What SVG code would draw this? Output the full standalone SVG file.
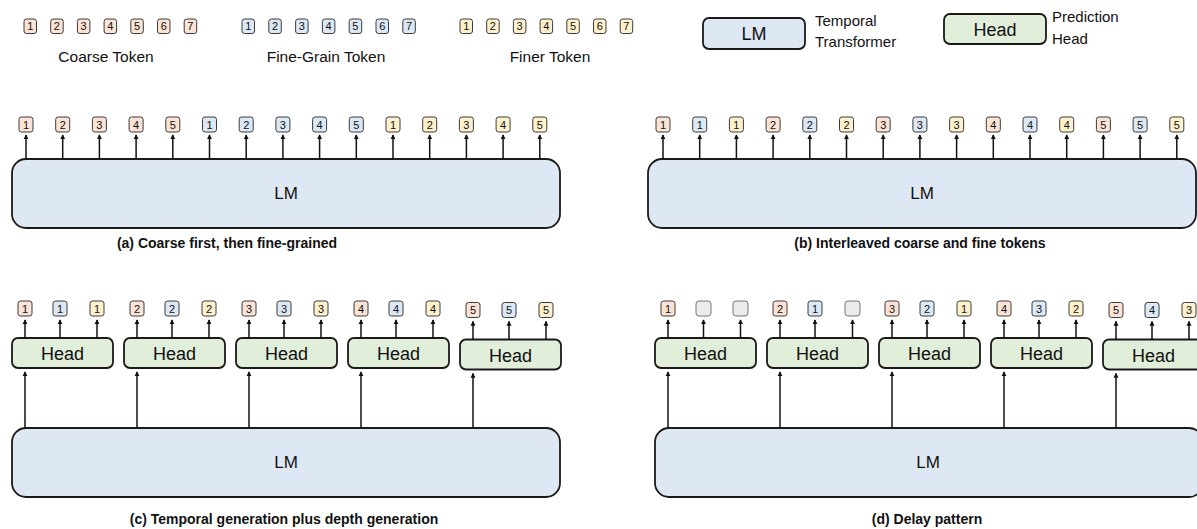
<svg xmlns="http://www.w3.org/2000/svg" width="1197" height="529" viewBox="0 0 1197 529">
<defs>
<style>
text{font-family:"Liberation Sans",Arial,sans-serif;fill:#111}
.tk{stroke:#3a3a3a;stroke-width:1}
.c{fill:#fbe3d5}.f{fill:#dce8f5}.y{fill:#fff1cc}.g{fill:#ececec;stroke:#777}
.tt{font-size:11px;text-anchor:middle}
.lm{fill:#dee8f4;stroke:#1a1a1a;stroke-width:1.8}
.hd{fill:#e1eed9;stroke:#1a1a1a;stroke-width:1.8}
.big{font-size:17px;text-anchor:middle}
.hdt{font-size:18px;text-anchor:middle}
.lab{font-size:15.5px;text-anchor:middle}
.leg{font-size:15px}
.cap{font-size:14px;font-weight:bold;text-anchor:middle}
.ar{stroke:#111;stroke-width:1.5;fill:none;marker-end:url(#ah)}
</style>
<marker id="ah" viewBox="0 0 6 6" refX="5" refY="3" markerWidth="5" markerHeight="6" markerUnits="userSpaceOnUse" orient="auto"><path d="M0,0 L6,3 L0,6 z" fill="#111"/></marker>
</defs>

<g id="legend">
<g id="legend-coarse">
<rect class="tk c" x="24" y="19" width="12.5" height="14.5" rx="2.5"/><text class="tt" x="30.2" y="30.2">1</text>
<rect class="tk c" x="50.7" y="19" width="12.5" height="14.5" rx="2.5"/><text class="tt" x="56.9" y="30.2">2</text>
<rect class="tk c" x="77.4" y="19" width="12.5" height="14.5" rx="2.5"/><text class="tt" x="83.6" y="30.2">3</text>
<rect class="tk c" x="104.1" y="19" width="12.5" height="14.5" rx="2.5"/><text class="tt" x="110.3" y="30.2">4</text>
<rect class="tk c" x="130.8" y="19" width="12.5" height="14.5" rx="2.5"/><text class="tt" x="137" y="30.2">5</text>
<rect class="tk c" x="157.5" y="19" width="12.5" height="14.5" rx="2.5"/><text class="tt" x="163.7" y="30.2">6</text>
<rect class="tk c" x="184.2" y="19" width="12.5" height="14.5" rx="2.5"/><text class="tt" x="190.4" y="30.2">7</text>
<text class="lab" x="106" y="62">Coarse Token</text>
</g>
<g id="legend-fine">
<rect class="tk f" x="242" y="19" width="12.5" height="14.5" rx="2.5"/><text class="tt" x="248.2" y="30.2">1</text>
<rect class="tk f" x="268.8" y="19" width="12.5" height="14.5" rx="2.5"/><text class="tt" x="275" y="30.2">2</text>
<rect class="tk f" x="295.6" y="19" width="12.5" height="14.5" rx="2.5"/><text class="tt" x="301.8" y="30.2">3</text>
<rect class="tk f" x="322.4" y="19" width="12.5" height="14.5" rx="2.5"/><text class="tt" x="328.6" y="30.2">4</text>
<rect class="tk f" x="349.2" y="19" width="12.5" height="14.5" rx="2.5"/><text class="tt" x="355.4" y="30.2">5</text>
<rect class="tk f" x="376" y="19" width="12.5" height="14.5" rx="2.5"/><text class="tt" x="382.2" y="30.2">6</text>
<rect class="tk f" x="402.8" y="19" width="12.5" height="14.5" rx="2.5"/><text class="tt" x="409" y="30.2">7</text>
<text class="lab" x="326" y="62">Fine-Grain Token</text>
</g>
<g id="legend-finer">
<rect class="tk y" x="460" y="19" width="12.5" height="14.5" rx="2.5"/><text class="tt" x="466.2" y="30.2">1</text>
<rect class="tk y" x="486.7" y="19" width="12.5" height="14.5" rx="2.5"/><text class="tt" x="492.9" y="30.2">2</text>
<rect class="tk y" x="513.4" y="19" width="12.5" height="14.5" rx="2.5"/><text class="tt" x="519.6" y="30.2">3</text>
<rect class="tk y" x="540.1" y="19" width="12.5" height="14.5" rx="2.5"/><text class="tt" x="546.3" y="30.2">4</text>
<rect class="tk y" x="566.8" y="19" width="12.5" height="14.5" rx="2.5"/><text class="tt" x="573" y="30.2">5</text>
<rect class="tk y" x="593.5" y="19" width="12.5" height="14.5" rx="2.5"/><text class="tt" x="599.7" y="30.2">6</text>
<rect class="tk y" x="620.2" y="19" width="12.5" height="14.5" rx="2.5"/><text class="tt" x="626.4" y="30.2">7</text>
<text class="lab" x="550" y="62">Finer Token</text>
</g>
<g id="legend-lm">
<rect class="lm" x="703" y="18" width="102" height="31" rx="6"/>
<text class="big" x="754" y="40" style="font-size:18px">LM</text>
<text class="leg" x="815" y="26">Temporal</text>
<text class="leg" x="815" y="47">Transformer</text>
</g>
<g id="legend-head">
<rect class="hd" x="944" y="14" width="102" height="30" rx="6"/>
<text class="hdt" x="995" y="36">Head</text>
<text class="leg" x="1052" y="22">Prediction</text>
<text class="leg" x="1052" y="44">Head</text>
</g>
</g>

<g id="panel-a">
<g id="lm-a"><rect class="lm" x="12" y="159" width="548" height="69" rx="14"/><text class="big" x="286" y="199">LM</text></g>
<g id="tokens-a">
<rect class="tk c" x="19" y="117" width="14" height="15" rx="2.5"/><text class="tt" x="26" y="128.5">1</text>
<rect class="tk c" x="55.7" y="117" width="14" height="15" rx="2.5"/><text class="tt" x="62.7" y="128.5">2</text>
<rect class="tk c" x="92.4" y="117" width="14" height="15" rx="2.5"/><text class="tt" x="99.4" y="128.5">3</text>
<rect class="tk c" x="129.1" y="117" width="14" height="15" rx="2.5"/><text class="tt" x="136.1" y="128.5">4</text>
<rect class="tk c" x="165.8" y="117" width="14" height="15" rx="2.5"/><text class="tt" x="172.8" y="128.5">5</text>
<rect class="tk f" x="202.5" y="117" width="14" height="15" rx="2.5"/><text class="tt" x="209.5" y="128.5">1</text>
<rect class="tk f" x="239.2" y="117" width="14" height="15" rx="2.5"/><text class="tt" x="246.2" y="128.5">2</text>
<rect class="tk f" x="275.9" y="117" width="14" height="15" rx="2.5"/><text class="tt" x="282.9" y="128.5">3</text>
<rect class="tk f" x="312.6" y="117" width="14" height="15" rx="2.5"/><text class="tt" x="319.6" y="128.5">4</text>
<rect class="tk f" x="349.3" y="117" width="14" height="15" rx="2.5"/><text class="tt" x="356.3" y="128.5">5</text>
<rect class="tk y" x="386" y="117" width="14" height="15" rx="2.5"/><text class="tt" x="393" y="128.5">1</text>
<rect class="tk y" x="422.7" y="117" width="14" height="15" rx="2.5"/><text class="tt" x="429.7" y="128.5">2</text>
<rect class="tk y" x="459.4" y="117" width="14" height="15" rx="2.5"/><text class="tt" x="466.4" y="128.5">3</text>
<rect class="tk y" x="496.1" y="117" width="14" height="15" rx="2.5"/><text class="tt" x="503.1" y="128.5">4</text>
<rect class="tk y" x="532.8" y="117" width="14" height="15" rx="2.5"/><text class="tt" x="539.8" y="128.5">5</text>
</g>
<text class="cap" x="227" y="248">(a) Coarse first, then fine-grained</text>
</g>

<g id="panel-b">
<g id="lm-b"><rect class="lm" x="648" y="159" width="548" height="69" rx="14"/><text class="big" x="922" y="199">LM</text></g>
<g id="tokens-b">
<rect class="tk c" x="656" y="117" width="14" height="15" rx="2.5"/><text class="tt" x="663" y="128.5">1</text>
<rect class="tk f" x="692.7" y="117" width="14" height="15" rx="2.5"/><text class="tt" x="699.7" y="128.5">1</text>
<rect class="tk y" x="729.4" y="117" width="14" height="15" rx="2.5"/><text class="tt" x="736.4" y="128.5">1</text>
<rect class="tk c" x="766.1" y="117" width="14" height="15" rx="2.5"/><text class="tt" x="773.1" y="128.5">2</text>
<rect class="tk f" x="802.8" y="117" width="14" height="15" rx="2.5"/><text class="tt" x="809.8" y="128.5">2</text>
<rect class="tk y" x="839.5" y="117" width="14" height="15" rx="2.5"/><text class="tt" x="846.5" y="128.5">2</text>
<rect class="tk c" x="876.2" y="117" width="14" height="15" rx="2.5"/><text class="tt" x="883.2" y="128.5">3</text>
<rect class="tk f" x="912.9" y="117" width="14" height="15" rx="2.5"/><text class="tt" x="919.9" y="128.5">3</text>
<rect class="tk y" x="949.6" y="117" width="14" height="15" rx="2.5"/><text class="tt" x="956.6" y="128.5">3</text>
<rect class="tk c" x="986.3" y="117" width="14" height="15" rx="2.5"/><text class="tt" x="993.3" y="128.5">4</text>
<rect class="tk f" x="1023" y="117" width="14" height="15" rx="2.5"/><text class="tt" x="1030" y="128.5">4</text>
<rect class="tk y" x="1059.7" y="117" width="14" height="15" rx="2.5"/><text class="tt" x="1066.7" y="128.5">4</text>
<rect class="tk c" x="1096.4" y="117" width="14" height="15" rx="2.5"/><text class="tt" x="1103.4" y="128.5">5</text>
<rect class="tk f" x="1133.1" y="117" width="14" height="15" rx="2.5"/><text class="tt" x="1140.1" y="128.5">5</text>
<rect class="tk y" x="1169.8" y="117" width="14" height="15" rx="2.5"/><text class="tt" x="1176.8" y="128.5">5</text>
</g>
<text class="cap" x="920" y="248">(b) Interleaved coarse and fine tokens</text>
</g>

<g id="panel-c">
<g id="lm-c"><rect class="lm" x="12" y="428" width="548" height="69" rx="14"/><text class="big" x="286" y="468">LM</text></g>
<g id="head-c1"><rect class="hd" x="12" y="338" width="101" height="30" rx="6"/><text class="hdt" x="62.5" y="360">Head</text></g>
<g id="head-c2"><rect class="hd" x="124" y="338" width="101" height="30" rx="6"/><text class="hdt" x="174.5" y="360">Head</text></g>
<g id="head-c3"><rect class="hd" x="236" y="338" width="101" height="30" rx="6"/><text class="hdt" x="286.5" y="360">Head</text></g>
<g id="head-c4"><rect class="hd" x="348" y="338" width="101" height="30" rx="6"/><text class="hdt" x="398.5" y="360">Head</text></g>
<g id="head-c5"><rect class="hd" x="460" y="339.5" width="101" height="30" rx="6"/><text class="hdt" x="510.5" y="361.5">Head</text></g>
<g id="tokens-c">
<rect class="tk c" x="18" y="301" width="14" height="15" rx="2.5"/><text class="tt" x="25" y="312.5">1</text>
<rect class="tk f" x="53" y="301" width="14" height="15" rx="2.5"/><text class="tt" x="60" y="312.5">1</text>
<rect class="tk y" x="90" y="301" width="14" height="15" rx="2.5"/><text class="tt" x="97" y="312.5">1</text>
<rect class="tk c" x="130" y="301" width="14" height="15" rx="2.5"/><text class="tt" x="137" y="312.5">2</text>
<rect class="tk f" x="165" y="301" width="14" height="15" rx="2.5"/><text class="tt" x="172" y="312.5">2</text>
<rect class="tk y" x="202" y="301" width="14" height="15" rx="2.5"/><text class="tt" x="209" y="312.5">2</text>
<rect class="tk c" x="242" y="301" width="14" height="15" rx="2.5"/><text class="tt" x="249" y="312.5">3</text>
<rect class="tk f" x="277" y="301" width="14" height="15" rx="2.5"/><text class="tt" x="284" y="312.5">3</text>
<rect class="tk y" x="314" y="301" width="14" height="15" rx="2.5"/><text class="tt" x="321" y="312.5">3</text>
<rect class="tk c" x="354" y="301" width="14" height="15" rx="2.5"/><text class="tt" x="361" y="312.5">4</text>
<rect class="tk f" x="389" y="301" width="14" height="15" rx="2.5"/><text class="tt" x="396" y="312.5">4</text>
<rect class="tk y" x="426" y="301" width="14" height="15" rx="2.5"/><text class="tt" x="433" y="312.5">4</text>
<rect class="tk c" x="466" y="302.5" width="14" height="15" rx="2.5"/><text class="tt" x="473" y="314">5</text>
<rect class="tk f" x="502" y="302.5" width="14" height="15" rx="2.5"/><text class="tt" x="509" y="314">5</text>
<rect class="tk y" x="539" y="302.5" width="14" height="15" rx="2.5"/><text class="tt" x="546" y="314">5</text>
</g>
<text class="cap" x="284" y="524">(c) Temporal generation plus depth generation</text>
</g>

<g id="panel-d">
<g id="lm-d"><rect class="lm" x="655" y="428" width="548" height="69" rx="14"/><text class="big" x="928" y="468">LM</text></g>
<g id="head-d1"><rect class="hd" x="655" y="338" width="101" height="30" rx="6"/><text class="hdt" x="705.5" y="360">Head</text></g>
<g id="head-d2"><rect class="hd" x="767" y="338" width="101" height="30" rx="6"/><text class="hdt" x="817.5" y="360">Head</text></g>
<g id="head-d3"><rect class="hd" x="879" y="338" width="101" height="30" rx="6"/><text class="hdt" x="929.5" y="360">Head</text></g>
<g id="head-d4"><rect class="hd" x="991" y="338" width="101" height="30" rx="6"/><text class="hdt" x="1041.5" y="360">Head</text></g>
<g id="head-d5"><rect class="hd" x="1103" y="339.5" width="101" height="30" rx="6"/><text class="hdt" x="1153.5" y="361.5">Head</text></g>
<g id="tokens-d">
<rect class="tk c" x="661" y="301" width="14" height="15" rx="2.5"/><text class="tt" x="668" y="312.5">1</text>
<rect class="tk g" x="696" y="301" width="15" height="15" rx="3"/>
<rect class="tk g" x="733" y="301" width="15" height="15" rx="3"/>
<rect class="tk c" x="773" y="301" width="14" height="15" rx="2.5"/><text class="tt" x="780" y="312.5">2</text>
<rect class="tk f" x="808" y="301" width="14" height="15" rx="2.5"/><text class="tt" x="815" y="312.5">1</text>
<rect class="tk g" x="845" y="301" width="15" height="15" rx="3"/>
<rect class="tk c" x="885" y="301" width="14" height="15" rx="2.5"/><text class="tt" x="892" y="312.5">3</text>
<rect class="tk f" x="920" y="301" width="14" height="15" rx="2.5"/><text class="tt" x="927" y="312.5">2</text>
<rect class="tk y" x="957" y="301" width="14" height="15" rx="2.5"/><text class="tt" x="964" y="312.5">1</text>
<rect class="tk c" x="997" y="301" width="14" height="15" rx="2.5"/><text class="tt" x="1004" y="312.5">4</text>
<rect class="tk f" x="1032" y="301" width="14" height="15" rx="2.5"/><text class="tt" x="1039" y="312.5">3</text>
<rect class="tk y" x="1069" y="301" width="14" height="15" rx="2.5"/><text class="tt" x="1076" y="312.5">2</text>
<rect class="tk c" x="1109" y="302.5" width="14" height="15" rx="2.5"/><text class="tt" x="1116" y="314">5</text>
<rect class="tk f" x="1145" y="302.5" width="14" height="15" rx="2.5"/><text class="tt" x="1152" y="314">4</text>
<rect class="tk y" x="1182" y="302.5" width="14" height="15" rx="2.5"/><text class="tt" x="1189" y="314">3</text>
</g>
<text class="cap" x="927" y="524">(d) Delay pattern</text>
</g>

<g id="connectors">
<g id="arrows-a">
<line class="ar" x1="26" y1="159" x2="26" y2="135"/>
<line class="ar" x1="62.7" y1="159" x2="62.7" y2="135"/>
<line class="ar" x1="99.4" y1="159" x2="99.4" y2="135"/>
<line class="ar" x1="136.1" y1="159" x2="136.1" y2="135"/>
<line class="ar" x1="172.8" y1="159" x2="172.8" y2="135"/>
<line class="ar" x1="209.5" y1="159" x2="209.5" y2="135"/>
<line class="ar" x1="246.2" y1="159" x2="246.2" y2="135"/>
<line class="ar" x1="282.9" y1="159" x2="282.9" y2="135"/>
<line class="ar" x1="319.6" y1="159" x2="319.6" y2="135"/>
<line class="ar" x1="356.3" y1="159" x2="356.3" y2="135"/>
<line class="ar" x1="393" y1="159" x2="393" y2="135"/>
<line class="ar" x1="429.7" y1="159" x2="429.7" y2="135"/>
<line class="ar" x1="466.4" y1="159" x2="466.4" y2="135"/>
<line class="ar" x1="503.1" y1="159" x2="503.1" y2="135"/>
<line class="ar" x1="539.8" y1="159" x2="539.8" y2="135"/>
</g>
<g id="arrows-b">
<line class="ar" x1="663" y1="159" x2="663" y2="135"/>
<line class="ar" x1="699.7" y1="159" x2="699.7" y2="135"/>
<line class="ar" x1="736.4" y1="159" x2="736.4" y2="135"/>
<line class="ar" x1="773.1" y1="159" x2="773.1" y2="135"/>
<line class="ar" x1="809.8" y1="159" x2="809.8" y2="135"/>
<line class="ar" x1="846.5" y1="159" x2="846.5" y2="135"/>
<line class="ar" x1="883.2" y1="159" x2="883.2" y2="135"/>
<line class="ar" x1="919.9" y1="159" x2="919.9" y2="135"/>
<line class="ar" x1="956.6" y1="159" x2="956.6" y2="135"/>
<line class="ar" x1="993.3" y1="159" x2="993.3" y2="135"/>
<line class="ar" x1="1030" y1="159" x2="1030" y2="135"/>
<line class="ar" x1="1066.7" y1="159" x2="1066.7" y2="135"/>
<line class="ar" x1="1103.4" y1="159" x2="1103.4" y2="135"/>
<line class="ar" x1="1140.1" y1="159" x2="1140.1" y2="135"/>
<line class="ar" x1="1176.8" y1="159" x2="1176.8" y2="135"/>
</g>
<g id="arrows-c">
<line class="ar" x1="25" y1="338" x2="25" y2="320"/>
<line class="ar" x1="60" y1="338" x2="60" y2="320"/>
<line class="ar" x1="97" y1="338" x2="97" y2="320"/>
<line class="ar" x1="137" y1="338" x2="137" y2="320"/>
<line class="ar" x1="172" y1="338" x2="172" y2="320"/>
<line class="ar" x1="209" y1="338" x2="209" y2="320"/>
<line class="ar" x1="249" y1="338" x2="249" y2="320"/>
<line class="ar" x1="284" y1="338" x2="284" y2="320"/>
<line class="ar" x1="321" y1="338" x2="321" y2="320"/>
<line class="ar" x1="361" y1="338" x2="361" y2="320"/>
<line class="ar" x1="396" y1="338" x2="396" y2="320"/>
<line class="ar" x1="433" y1="338" x2="433" y2="320"/>
<line class="ar" x1="473" y1="339.5" x2="473" y2="321.5"/>
<line class="ar" x1="509" y1="339.5" x2="509" y2="321.5"/>
<line class="ar" x1="546" y1="339.5" x2="546" y2="321.5"/>
<line class="ar" x1="25" y1="428" x2="25" y2="372"/>
<line class="ar" x1="137" y1="428" x2="137" y2="372"/>
<line class="ar" x1="249" y1="428" x2="249" y2="372"/>
<line class="ar" x1="361" y1="428" x2="361" y2="372"/>
<line class="ar" x1="473" y1="428" x2="473" y2="373.5"/>
</g>
<g id="arrows-d">
<line class="ar" x1="668" y1="338" x2="668" y2="320"/>
<line class="ar" x1="703.5" y1="338" x2="703.5" y2="320"/>
<line class="ar" x1="740.5" y1="338" x2="740.5" y2="320"/>
<line class="ar" x1="780" y1="338" x2="780" y2="320"/>
<line class="ar" x1="815" y1="338" x2="815" y2="320"/>
<line class="ar" x1="852.5" y1="338" x2="852.5" y2="320"/>
<line class="ar" x1="892" y1="338" x2="892" y2="320"/>
<line class="ar" x1="927" y1="338" x2="927" y2="320"/>
<line class="ar" x1="964" y1="338" x2="964" y2="320"/>
<line class="ar" x1="1004" y1="338" x2="1004" y2="320"/>
<line class="ar" x1="1039" y1="338" x2="1039" y2="320"/>
<line class="ar" x1="1076" y1="338" x2="1076" y2="320"/>
<line class="ar" x1="1116" y1="339.5" x2="1116" y2="321.5"/>
<line class="ar" x1="1152" y1="339.5" x2="1152" y2="321.5"/>
<line class="ar" x1="1189" y1="339.5" x2="1189" y2="321.5"/>
<line class="ar" x1="668" y1="428" x2="668" y2="372"/>
<line class="ar" x1="780" y1="428" x2="780" y2="372"/>
<line class="ar" x1="892" y1="428" x2="892" y2="372"/>
<line class="ar" x1="1004" y1="428" x2="1004" y2="372"/>
<line class="ar" x1="1116" y1="428" x2="1116" y2="373.5"/>
</g>
</g>
</svg>
